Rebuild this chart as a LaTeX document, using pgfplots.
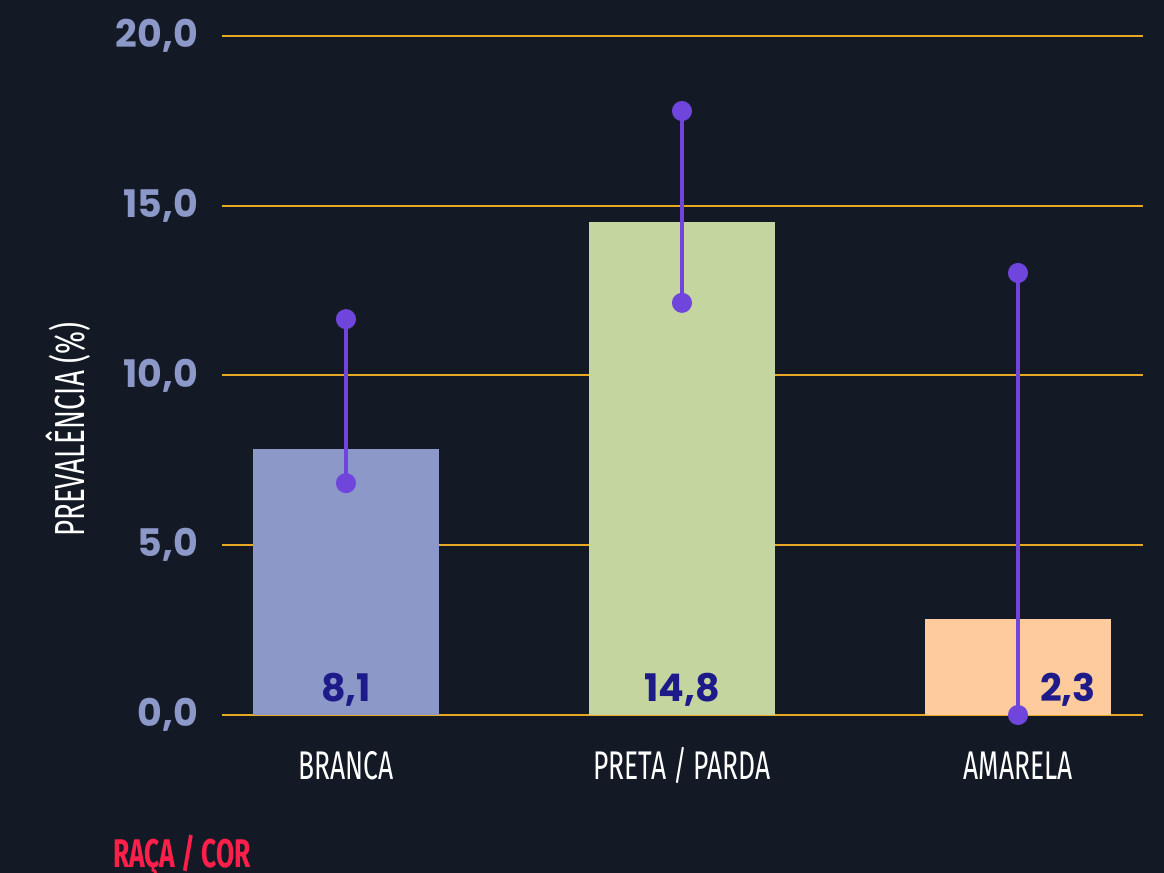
\documentclass[border=0pt]{standalone}
\usepackage{pgfplots}
\pgfplotsset{compat=1.18}
\usepackage{fontspec}
\setmainfont{Poppins}
\newfontfamily\condfont[FakeStretch=0.66]{Fira Sans}
\definecolor{bg}{HTML}{131A25}
\definecolor{gridc}{HTML}{E8A825}
\definecolor{tickc}{HTML}{8C98C8}
\definecolor{barA}{HTML}{8C99C8}
\definecolor{barB}{HTML}{C5D5A0}
\definecolor{barC}{HTML}{FECC9C}
\definecolor{errc}{HTML}{6F45DC}
\definecolor{valc}{HTML}{1D1A8A}
\definecolor{redc}{HTML}{FF1F4B}
\begin{document}
\begin{tikzpicture}
\fill[bg] (0,0) rectangle (582pt,436.5pt);
\useasboundingbox (0,0) rectangle (582pt,436.5pt);
\begin{axis}[
  at={(111pt,79pt)}, anchor=south west,
  scale only axis, width=460.5pt, height=339.5pt,
  xmin=-0.369, xmax=2.372, ymin=0, ymax=20,
  axis line style={draw=none},
  major tick length=0pt,
  ymajorgrids, grid style={gridc, line width=1pt},
  ytick={0,5,10,15,20},
  yticklabels={{0,0},{5,0},{10,0},{15,0},{20,0}},
  yticklabel style={font=\fontsize{19}{19}\selectfont\bfseries, text=tickc, anchor=east, xshift=-8.5pt},
  xtick={0,1,2},
  xticklabels={BRANCA,PRETA / PARDA,AMARELA},
  xticklabel style={font=\condfont\fontsize{20}{20}\selectfont, text=white, anchor=base, yshift=-32.5pt},
  ylabel={PREVALÊNCIA (\%)},
  ylabel style={font=\condfont\fontsize{21}{21}\selectfont, text=white, at={(axis description cs:-0.167,0.42)}, rotate=0, anchor=center},
  xlabel={\bfseries RAÇA / COR},
  xlabel style={font=\condfont\fontsize{20}{20}\selectfont, text=redc, at={(axis description cs:-0.126,-0.208)}, anchor=west},
  clip=false,
]
\addplot[ybar, bar width=93pt, fill=barA, draw=none, bar shift=0pt] coordinates {(0,7.83)};
\addplot[ybar, bar width=93pt, fill=barB, draw=none, bar shift=0pt] coordinates {(1,14.52)};
\addplot[ybar, bar width=93pt, fill=barC, draw=none, bar shift=0pt] coordinates {(2,2.83)};
\addplot[errc, line width=2pt, mark=*, mark size=4pt, mark options={fill=errc, draw=none}] coordinates {(0,6.83) (0,11.66)};
\addplot[errc, line width=2pt, mark=*, mark size=4pt, mark options={fill=errc, draw=none}] coordinates {(1,12.14) (1,17.79)};
\addplot[errc, line width=2pt, mark=*, mark size=4pt, mark options={fill=errc, draw=none}] coordinates {(2,0) (2,13.02)};
\node[font=\fontsize{19}{19}\selectfont\bfseries, text=valc] at (axis cs:0,0.74) {8,1};
\node[font=\fontsize{19}{19}\selectfont\bfseries, text=valc] at (axis cs:1,0.74) {14,8};
\node[font=\fontsize{19}{19}\selectfont\bfseries, text=valc] at (axis cs:2.149,0.74) {2,3};
\end{axis}
\end{tikzpicture}
\end{document}
